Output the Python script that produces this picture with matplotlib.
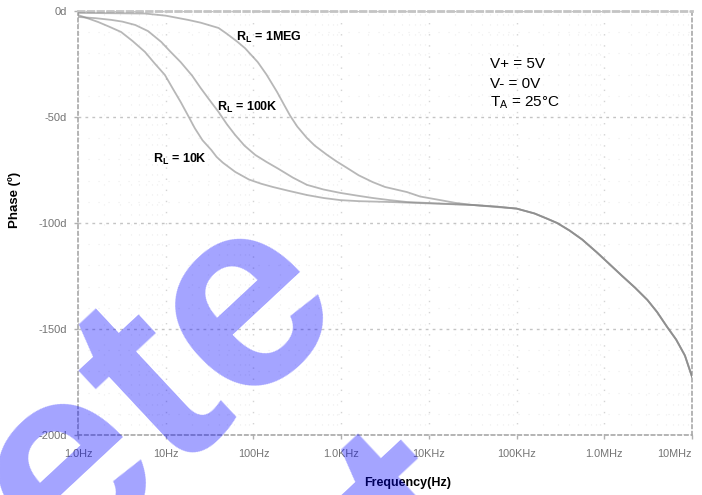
import numpy as np
import matplotlib
matplotlib.use("Agg")
import matplotlib.pyplot as plt
from matplotlib.ticker import FixedLocator, NullFormatter

plt.rcParams['font.family'] = ['Liberation Sans', 'DejaVu Sans']
plt.rcParams['mathtext.fontset'] = 'custom'
plt.rcParams['mathtext.rm'] = 'Liberation Sans'
plt.rcParams['mathtext.bf'] = 'Liberation Sans:bold'

# shared high-frequency part (all loads overlap here)
tail_f = [1.0e5, 1.6e5, 2.24e5, 2.9e5, 4.0e5, 5.6e5, 8.3e5, 1.12e6, 1.6e6, 2.24e6, 3.1e6,
          4.0e6, 5.2e6, 6.6e6, 8.3e6, 1.0e7]
tail_p = [-93.2, -95.5, -98, -100, -103.5, -107.8, -114, -119, -125, -130.5, -136.3,
          -142, -149, -155, -162.5, -172.5]

f_1meg = [1, 5.8, 10, 18, 25, 40, 50, 66, 80, 112, 141, 186, 224, 263, 316, 407, 500, 692,
          890, 1175, 1585, 2290, 3160, 5620, 7940, 13500, 20000, 31600, 60300]
p_1meg = [-0.9, -1.2, -2.2, -4.2, -5.5, -8.0, -10.8, -14.6, -17.5, -24.1, -30, -38.2,
          -44.3, -49.5, -54.5, -59.9, -63.5, -67.9, -71, -74.1, -77.5, -80.7, -83, -85.4,
          -87.5, -89.2, -90.5, -91.5, -92.5]

f_100k = [1, 1.6, 2.4, 3.2, 4.5, 6.3, 8.9, 11.2, 14.8, 20, 25, 31.6, 40, 50, 62, 79, 105,
          141, 190, 282, 407, 630, 977, 1585, 2290, 3550, 5620, 31600, 60300]
p_100k = [-2.8, -3.4, -4.2, -5, -6.6, -9.5, -14.6, -19, -24.1, -30.5, -36.3, -42, -47.6,
          -53.5, -58.5, -63.5, -67.9, -71.2, -74.3, -78.6, -82, -84.2, -85.8, -87.2, -88.2,
          -89.2, -90.1, -91.5, -92.3]

f_10k = [1, 1.26, 1.7, 2.24, 3.1, 4.2, 5.8, 7.4, 9.8, 12, 14.8, 17.8, 21.4, 26.3, 33, 38,
         44.7, 62, 89, 123, 166, 251, 407, 630, 977, 1585, 3630, 31600, 60300]
p_10k = [-1.9, -3.3, -5.2, -7.3, -9.9, -14.2, -19.3, -24.5, -30.2, -36.5, -42.9, -49,
         -55.2, -61, -65.5, -68.8, -71.5, -75.9, -79.5, -81.5, -83, -84.8, -86.8, -88.2,
         -89.2, -89.7, -90.1, -91.5, -92.3]

x_ticks = [1, 10, 100, 1e3, 1e4, 1e5, 1e6, 1e7]
x_labels = ['1.0Hz', '10Hz', '100Hz', '1.0KHz', '10KHz', '100KHz', '1.0MHz', '10MHz']
y_ticks = [0, -50, -100, -150, -200]
y_labels = ['0d', '-50d', '-100d', '-150d', '-200d']

fig = plt.figure(figsize=(7.02, 4.95), dpi=100)
ax = fig.add_axes([78 / 702, 1 - 435 / 495, 614 / 702, 424 / 495])

for f, p in [(f_1meg, p_1meg), (f_100k, p_100k), (f_10k, p_10k)]:
    ax.plot(f + tail_f, p + tail_p, color='#888888', lw=1.3, alpha=0.6, zorder=3,
            solid_joinstyle='round')

ax.set_xscale('log')
ax.set_xlim(1, 1e7)
ax.set_ylim(-200, 0)

ax.xaxis.set_major_locator(FixedLocator(x_ticks))
ax.set_xticklabels(x_labels)
ax.xaxis.set_minor_locator(FixedLocator([m * d for d in x_ticks[:-1] for m in range(2, 10)]))
ax.xaxis.set_minor_formatter(NullFormatter())
ax.set_yticks(y_ticks)
ax.set_yticklabels(y_labels)
ax.yaxis.set_minor_locator(FixedLocator(np.arange(-190, 0, 10)))

ax.tick_params(axis='both', which='major', labelcolor='#747474',
               color='#b0b0b0', length=3, width=1)
ax.tick_params(axis='x', labelsize=7.8, pad=7)
ax.tick_params(axis='y', labelsize=8, pad=5)
ax.tick_params(axis='both', which='minor', length=0)
ax.get_xticklabels()[-1].set_horizontalalignment('right')

ax.grid(True, which='major', axis='y', color='#c4c4c4', lw=1, linestyle=(0, (2, 3)))
ax.grid(True, which='major', axis='x', color='#d4d4d4', lw=1, linestyle=(0, (1, 7)))
ax.grid(True, which='minor', color='#ececec', lw=0.8, linestyle=(0, (1, 8)))

for side in ['left', 'bottom', 'right']:
    ax.spines[side].set_color('#a8a8a8')
    ax.spines[side].set_linestyle((0, (2, 2)))
    ax.spines[side].set_linewidth(1.2)
ax.spines['top'].set_color('#c4c4c4')
ax.spines['top'].set_linestyle((0, (2, 1.5)))
ax.spines['top'].set_linewidth(2)

ax.set_xlabel('Frequency(Hz)', fontsize=9, fontweight='bold')
ax.set_ylabel('Phase (º)', fontsize=9.5, fontweight='bold')
ax.xaxis.set_label_coords((408 - 78) / 614, -(477 - 435) / 424)
ax.yaxis.set_label_coords(-(78 - 21) / 614, (435 - 200) / 424)

ax.text(0.257, 0.938, r'$\mathbf{R_L}$ = 1MEG', transform=ax.transAxes, fontsize=9,
        fontweight='bold', va='center', ha='left')
ax.text(0.227, 0.772, r'$\mathbf{R_L}$ = 100K', transform=ax.transAxes, fontsize=9,
        fontweight='bold', va='center', ha='left')
ax.text(0.122, 0.651, r'$\mathbf{R_L}$ = 10K', transform=ax.transAxes, fontsize=9,
        fontweight='bold', va='center', ha='left')

ax.text(0.671, 0.8755, 'V+ = 5V', transform=ax.transAxes, fontsize=11, va='center')
ax.text(0.671, 0.8285, 'V- = 0V', transform=ax.transAxes, fontsize=11, va='center')
ax.text(0.671, 0.7825, r'$\mathrm{T_A}$ = 25°C', transform=ax.transAxes, fontsize=11,
        va='center')

# diagonal watermark
fig.text(0.498, 0.385, 'Obsolete', rotation=43, rotation_mode='anchor', ha='right',
         va='baseline', fontsize=196, fontweight='bold', color='#0000ff', alpha=0.36)
fig.text(0.7115, -0.067, 'Product', rotation=43, rotation_mode='anchor', ha='right',
         va='baseline', fontsize=196, fontweight='bold', color='#0000ff', alpha=0.36)

fig.savefig('out.png', dpi=100)
